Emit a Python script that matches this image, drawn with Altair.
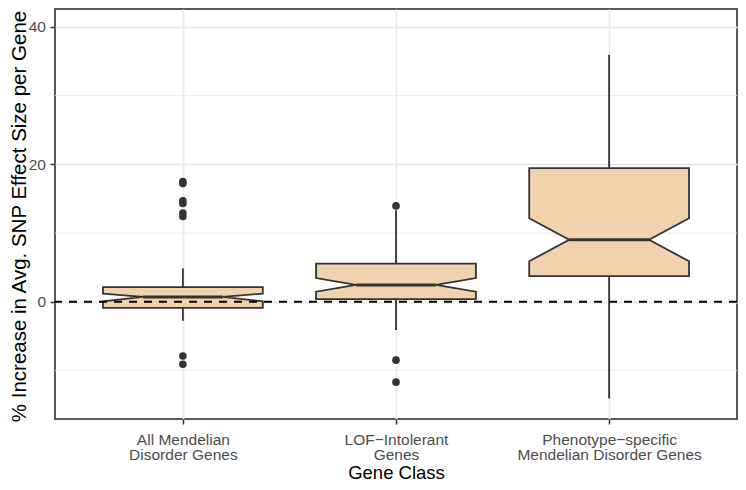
import altair as alt
import pandas as pd

# ---- data ----
categories = ["All Mendelian Disorder Genes", "LOF-Intolerant Genes",
              "Phenotype-specific Mendelian Disorder Genes"]
label_lines = [["All Mendelian", "Disorder Genes"],
               ["LOF\u2212Intolerant", "Genes"],
               ["Phenotype\u2212specific", "Mendelian Disorder Genes"]]
q1 = [-0.89, 0.38, 3.73]
median = [0.71, 2.45, 9.02]
q3 = [2.12, 5.56, 19.45]
notch_lo = [0.05, 1.47, 5.89]
notch_hi = [1.19, 3.45, 12.15]
whisker_lo = [-2.77, -4.10, -14.07]
whisker_hi = [4.86, 13.30, 35.93]
outlier_box = [1, 1, 1, 1, 1, 1, 1, 1, 2, 2, 2]
outlier_val = [17.5, 17.2, 14.7, 14.3, 12.9, 12.4, -7.9, -9.1, 13.95, -8.5, -11.7]
y_major = [0, 20, 40]
y_minor = [-10, 10, 30]

# ---- styling ----
BOX_W = 0.75          # box width in category units (ggplot default)
NOTCH_W = 0.5         # notch width relative to box
FILL = "#F0D3AD"
LINE = "#333333"
FONT = "Liberation Sans"
W, H = 682, 410

centers = [1, 2, 3]
hw = BOX_W / 2
nhw = hw * NOTCH_W

# closed outline of each notched box (derived from the quartiles above)
poly_rows = []
for i, c in enumerate(centers):
    pts = [(c - hw, q1[i]), (c + hw, q1[i]), (c + hw, notch_lo[i]),
           (c + nhw, median[i]), (c + hw, notch_hi[i]), (c + hw, q3[i]),
           (c - hw, q3[i]), (c - hw, notch_hi[i]), (c - nhw, median[i]),
           (c - hw, notch_lo[i])]
    for k, (xv, yv) in enumerate(pts):
        poly_rows.append({"box": i, "x": xv, "y": yv, "ord": k})
df_poly = pd.DataFrame(poly_rows)

df_med = pd.DataFrame({"x1": [c - nhw for c in centers],
                       "x2": [c + nhw for c in centers], "y": median})
wh_rows = []
for i, c in enumerate(centers):
    wh_rows.append({"x": c, "y": q3[i], "y2": whisker_hi[i]})
    wh_rows.append({"x": c, "y": q1[i], "y2": whisker_lo[i]})
df_wh = pd.DataFrame(wh_rows)
df_out = pd.DataFrame({"x": outlier_box, "y": outlier_val})
df_minor = pd.DataFrame({"y": y_minor})

expr = "datum.value == 1 ? %s : datum.value == 2 ? %s : %s" % tuple(
    "[" + ", ".join("'%s'" % s for s in ls) + "]" for ls in label_lines)

xscale = alt.Scale(domain=[0.4, 3.6], nice=False, zero=False)
yscale = alt.Scale(domain=[-17.06, 42.6], nice=False, zero=False)

xaxis = alt.Axis(values=centers, labelExpr=expr, title="Gene Class",
                 labelFont=FONT, labelFontSize=15.5, labelColor="#4D4D4D",
                 labelPadding=20, labelBaseline="alphabetic", labelLineHeight=15.5,
                 labelOverlap=False, labelFlush=False, labelLimit=400,
                 tickSize=5, tickColor=LINE, tickWidth=1.5, domain=False,
                 grid=True, gridColor="#EBEBEB", gridWidth=1.8,
                 titleFont=FONT, titleFontSize=18.5, titleFontWeight="normal",
                 titleColor="black", titleBaseline="alphabetic", titleY=59,
                 titleX=W / 2, titleAlign="center")
yaxis = alt.Axis(values=y_major, title="% Increase in Avg. SNP Effect Size per Gene",
                 labelFont=FONT, labelFontSize=15.5, labelColor="#4D4D4D",
                 labelPadding=4.5, labelFlush=False, labelOverlap=False,
                 tickSize=5, tickColor=LINE, tickWidth=1.5, domain=False,
                 grid=True, gridColor="#EBEBEB", gridWidth=1.8,
                 titleFont=FONT, titleFontSize=20.5, titleFontWeight="normal",
                 titleColor="black", titleAngle=270, titleBaseline="alphabetic",
                 titleX=-30, titleY=H / 2 + 2, titleAlign="center")


def X(f):
    return alt.X(f, type="quantitative", scale=xscale, axis=xaxis)


def Y(f):
    return alt.Y(f, type="quantitative", scale=yscale, axis=yaxis)


minor = alt.Chart(df_minor).mark_rule(color="#EBEBEB", strokeWidth=0.9).encode(
    y=Y("y"))

boxes = alt.Chart(df_poly).mark_line(
    interpolate="linear-closed", fill=FILL, stroke=LINE, strokeWidth=1.8,
    strokeJoin="miter", opacity=1).encode(
    x=X("x"), y=Y("y"), order="ord:Q", detail="box:N")

whiskers = alt.Chart(df_wh).mark_rule(color=LINE, strokeWidth=1.8).encode(
    x=X("x"), y=Y("y"), y2="y2")

medians = alt.Chart(df_med).mark_rule(color=LINE, strokeWidth=3).encode(
    x=X("x1"), x2="x2", y=Y("y"))

outliers = alt.Chart(df_out).mark_circle(color=LINE, size=58, opacity=1).encode(
    x=X("x"), y=Y("y"))

zero = alt.Chart(pd.DataFrame({"y": [0]})).mark_rule(
    color="black", strokeWidth=2, strokeDash=[8, 7]).encode(y=Y("y"))

chart = alt.layer(minor, whiskers, boxes, medians, outliers, zero).properties(
    width=W, height=H,
    autosize=alt.AutoSizeParams(type="none"),
    padding={"left": 47, "top": 1, "right": 1, "bottom": 63},
    background="white",
).configure_view(stroke="#222222", strokeWidth=1.5)

chart.save("out.html", embed_options={"renderer": "svg", "actions": False})
